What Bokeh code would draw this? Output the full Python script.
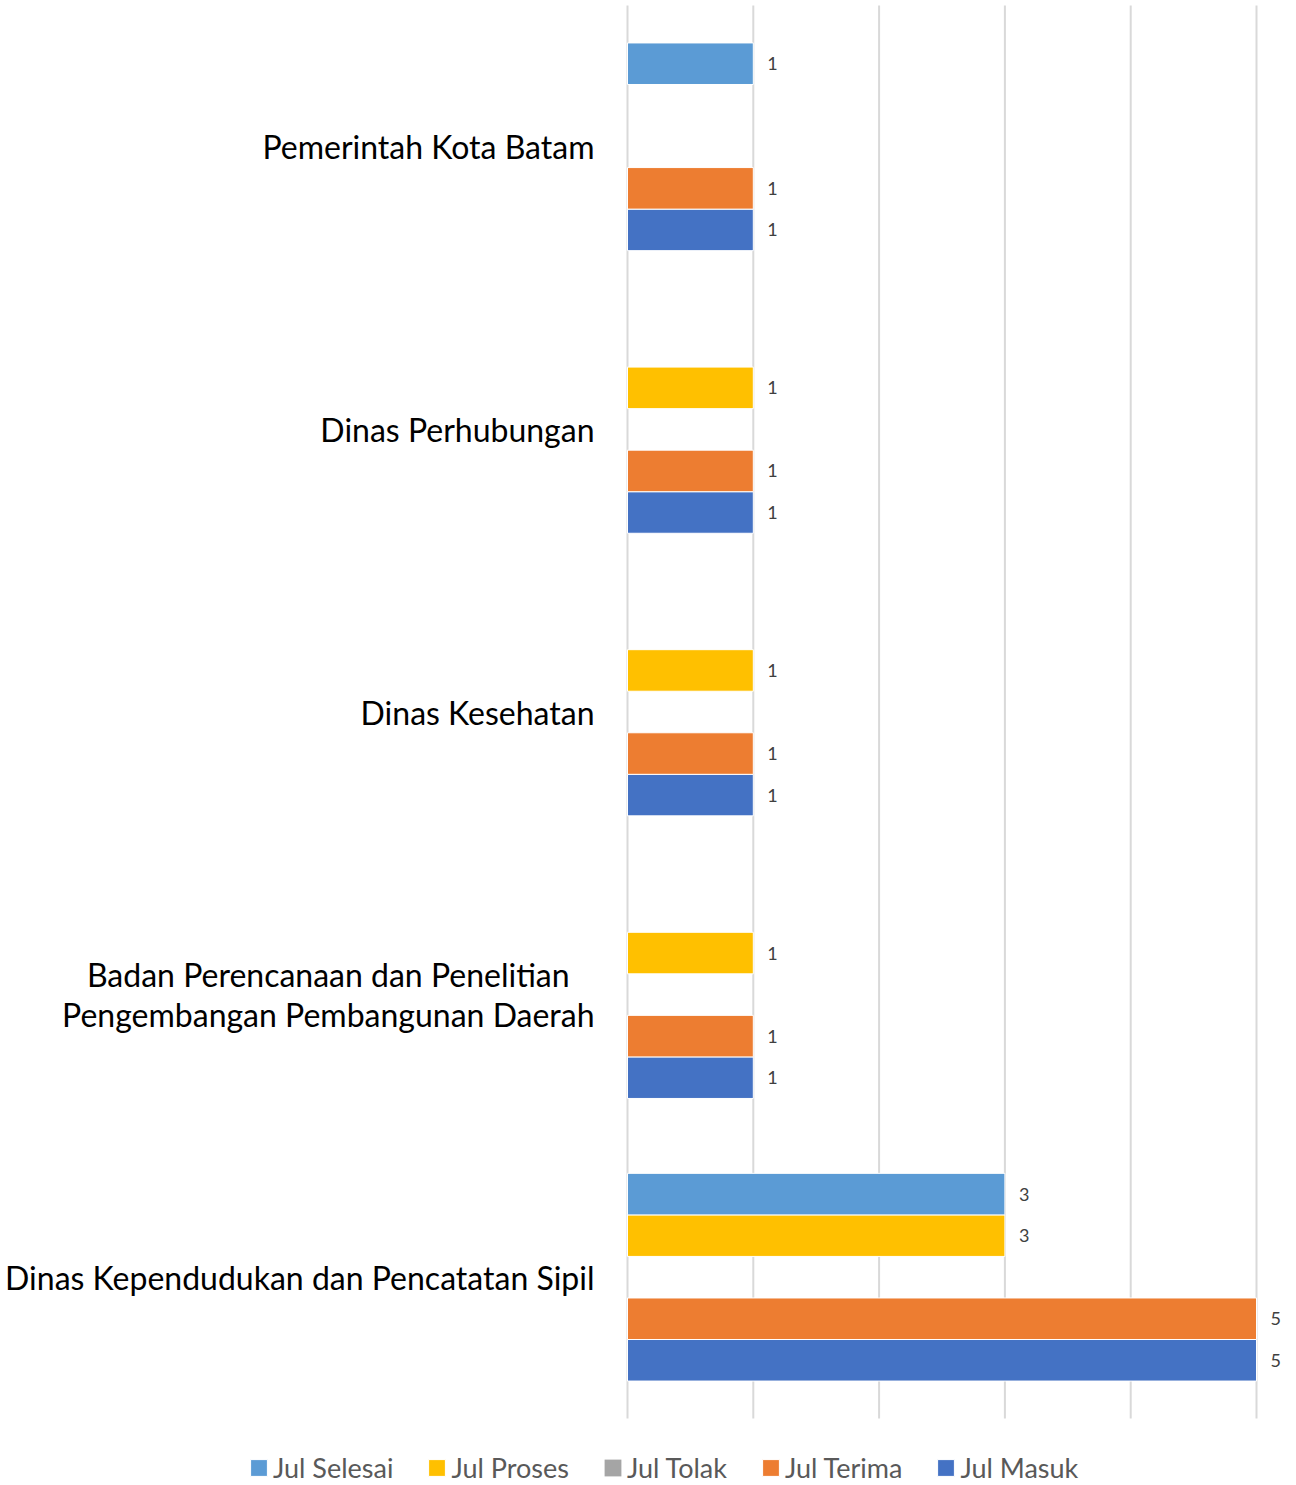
from bokeh.plotting import figure
from bokeh.models import ColumnDataSource, Legend, LegendItem, Range1d
from bokeh.core.properties import value
from bokeh.embed import file_html
from bokeh.resources import INLINE

categories = [
    "Dinas Kependudukan dan Pencatatan Sipil",
    "Badan Perencanaan dan Penelitian\nPengembangan Pembangunan Daerah",
    "Dinas Kesehatan",
    "Dinas Perhubungan",
    "Pemerintah Kota Batam",
]
jul_masuk = [5, 1, 1, 1, 1]
jul_terima = [5, 1, 1, 1, 1]
jul_tolak = [0, 0, 0, 0, 0]
jul_proses = [3, 1, 1, 1, 0]
jul_selesai = [3, 0, 0, 0, 1]

series_names = ["Jul Masuk", "Jul Terima", "Jul Tolak", "Jul Proses", "Jul Selesai"]
series_values = [jul_masuk, jul_terima, jul_tolak, jul_proses, jul_selesai]
series_colors = ["#4472C4", "#ED7D31", "#A5A5A5", "#FFC000", "#5B9BD5"]
legend_order = ["Jul Selesai", "Jul Proses", "Jul Tolak", "Jul Terima", "Jul Masuk"]
grid_ticks = [0, 1, 2, 3, 4, 5]

FONT = "Lato"
step = 0.147          # bar thickness in category units
W, H = 1296, 1484
px_x = 125.8          # pixels per value unit
px_y = 282.6          # pixels per category
x0_px = 627           # pixel where value 0 lies
top_px, bottom_px = 5, 1418

n = len(categories)
y_end = (n - 0.5) + top_px / px_y
y_start = -0.5 - (H - bottom_px) / px_y

p = figure(
    width=W, height=H,
    x_range=Range1d(-x0_px / px_x, (W - x0_px) / px_x),
    y_range=Range1d(y_start, y_end),
    output_backend="svg", toolbar_location=None,
    min_border_left=0, min_border_right=0, min_border_top=0, min_border_bottom=0,
    outline_line_color=None, x_axis_type=None, y_axis_type=None,
)
p.xgrid.visible = False
p.ygrid.visible = False

# vertical grid lines
p.segment(x0=grid_ticks, x1=grid_ticks, y0=[-0.5] * len(grid_ticks), y1=[n - 0.5] * len(grid_ticks),
          line_color="#d9d9d9", line_width=2)

cat_pos = list(range(n))

renderers = {}
for i, (name, vals, color) in enumerate(zip(series_names, series_values, series_colors)):
    off = (i - 2) * step
    keep = [k for k, v in enumerate(vals) if v > 0]
    if not keep:
        src = ColumnDataSource(dict(y=[c + off for c in cat_pos], val=list(vals)))
        renderers[name] = p.hbar(y="y", right="val", left=0, height=step, source=src,
                                 fill_color=color, line_color=None)
        continue
    src = ColumnDataSource(dict(
        y=[cat_pos[k] + off for k in keep],
        val=[vals[k] for k in keep],
        lab=[str(vals[k]) for k in keep],
    ))
    renderers[name] = p.hbar(y="y", right="val", left=0, height=step, source=src,
                             fill_color=color, line_color="white", line_width=1)
    p.text(x="val", y="y", text="lab", source=src,
           x_offset=14, text_align="left", text_baseline="middle",
           text_font=value(FONT), text_font_size="18px", text_color="#404040")

# category labels
lab_src = ColumnDataSource(dict(y=cat_pos, x=[0] * n, t=categories))
p.text(x="x", y="y", text="t", source=lab_src, x_offset=-33,
       anchor="center_right", text_align="center", text_baseline="middle",
       text_line_height=1.03,
       text_font=value(FONT), text_font_size="32px", text_color="#000000")

legend = Legend(
    items=[LegendItem(label=nm, renderers=[renderers[nm]]) for nm in legend_order],
    orientation="horizontal", location=(248, 0),
    label_text_font=FONT, label_text_font_size="27px", label_text_color="#595959",
    glyph_width=21, glyph_height=21, spacing=33, label_standoff=4,
    padding=0, margin=0,
    border_line_color=None, background_fill_alpha=0,
)
p.add_layout(legend, "center")

open("out.html", "w").write(file_html(p, INLINE))
